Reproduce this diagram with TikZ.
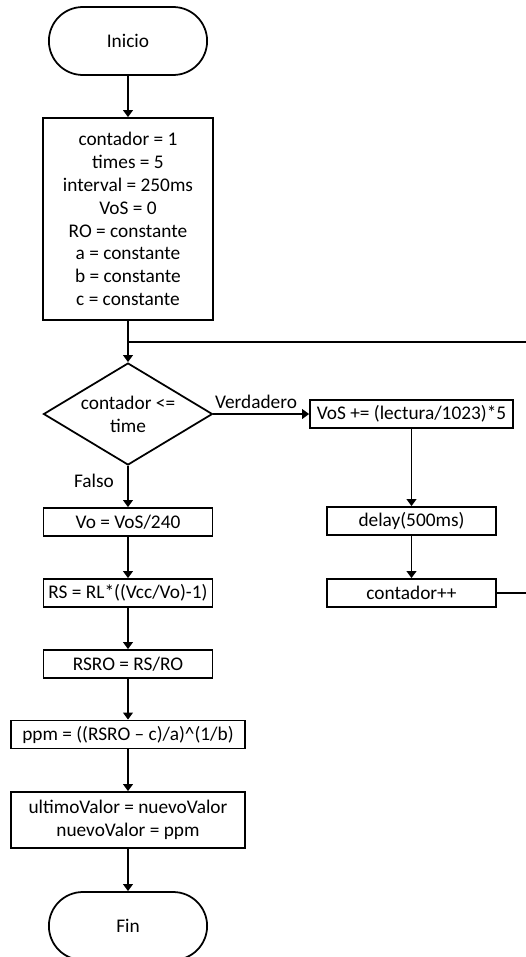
\documentclass[tikz,border=0pt]{standalone}
\usepackage{fontspec}
\setmainfont{Carlito}
\usetikzlibrary{shapes.geometric,shapes.misc,arrows.meta}

\begin{document}
\begin{tikzpicture}[x=0.02cm, y=-0.02cm,
    font=\fontsize{11}{13}\selectfont,
    line width=1pt,
    flecha/.style={-{Triangle[width=5.5pt,length=4pt]}},
    caja/.style={draw, rectangle, inner sep=0pt, minimum height=0.56cm, align=center},
    terminal/.style={draw, rounded rectangle, minimum width=3.4cm, minimum height=1.36cm},
    decision/.style={draw, diamond, aspect=1.66, inner sep=0pt, minimum width=3.38cm, minimum height=2.04cm, align=center}]
    \useasboundingbox (0,0) rectangle (525,957);

    % 开始
    \node[terminal] (inicio) at (128,41) {Inicio};

    % 初始化
    \node[caja, minimum width=3.4cm, minimum height=4.04cm] (init) at (128,219)
        {contador = 1\\ times = 5\\ interval = 250ms\\ VoS = 0\\ RO = constante\\
         a = constante\\ b = constante\\ c = constante};

    % 判断
    \node[decision] (dec) at (128,414) {contador <=\\ time};

    % 循环体
    \node[caja, minimum width=4.06cm] (vos) at (411.5,414) {VoS += (lectura/1023)*5};
    \node[caja, minimum width=3.38cm] (delay) at (411.5,521) {delay(500ms)};
    \node[caja, minimum width=3.38cm] (cont) at (411.5,593) {contador++};

    % 计算
    \node[caja, minimum width=3.38cm] (vo) at (128,522) {Vo = VoS/240};
    \node[caja, minimum width=3.38cm] (rs) at (128,593) {RS = RL*((Vcc/Vo)-1)};
    \node[caja, minimum width=3.38cm] (rsro) at (128,664) {RSRO = RS/RO};
    \node[caja, minimum width=4.68cm] (ppm) at (128,734.5) {ppm = ((RSRO – c)/a)\textasciicircum(1/b)};
    \node[caja, minimum width=4.68cm, minimum height=1.12cm] (ultimo) at (128,820)
        {ultimoValor = nuevoValor\\ nuevoValor = ppm};

    % 结束
    \node[terminal] (fin) at (128,926) {Fin};

    % 标签
    \node (verd) at (256,402) {Verdadero};
    \node (falso) at (94,481) {Falso};

    % 连线
    \coordinate (union) at (128,342);
    \coordinate (lazo) at (530,593);
    \draw[flecha] (inicio) -- (init);
    \draw[flecha] (init) -- (dec);
    \draw[flecha] (dec) -- (vos);
    \draw[flecha] (vos) -- (delay);
    \draw[flecha] (delay) -- (cont);
    \draw (cont) -- (lazo) |- (union);
    \draw[flecha] (dec) -- (vo);
    \draw[flecha] (vo) -- (rs);
    \draw[flecha] (rs) -- (rsro);
    \draw[flecha] (rsro) -- (ppm);
    \draw[flecha] (ppm) -- (ultimo);
    \draw[flecha] (ultimo) -- (fin);
\end{tikzpicture}
\end{document}
